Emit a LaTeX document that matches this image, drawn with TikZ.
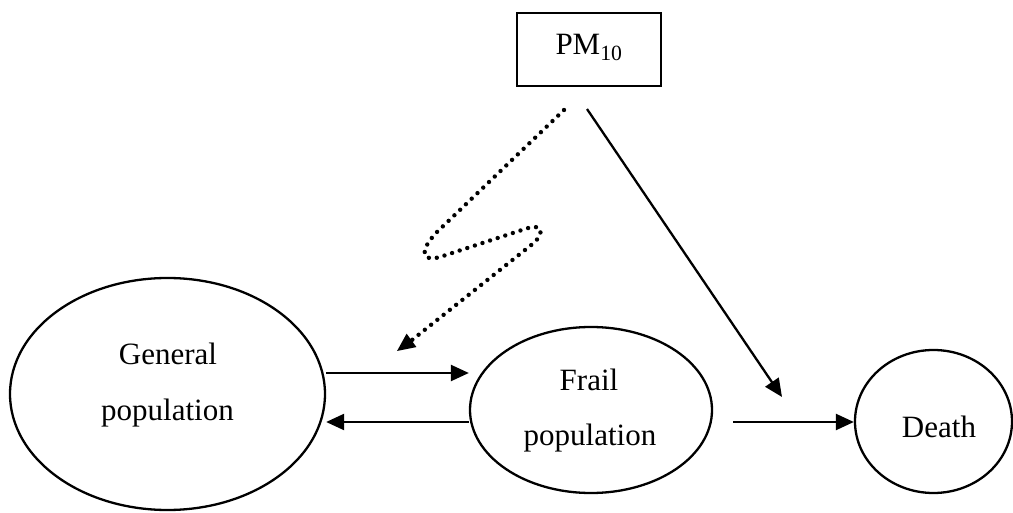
\documentclass[tikz,border=0pt]{standalone}
\usepackage{fontspec}
\setmainfont{Liberation Serif}
\usetikzlibrary{shapes.geometric,arrows.meta}
\begin{document}
\begin{tikzpicture}[x=1pt,y=-1pt,
  lw/.style={line width=2.3pt},
  oval/.style={ellipse,draw,lw,inner sep=0pt},
  lbl/.style={anchor=base,inner sep=0pt,font=\fontsize{31}{36}\selectfont},
  tip/.style={-{Triangle[length=18pt,width=16pt]}},
  dotline/.style={line width=4.4pt,line cap=round,dash pattern=on 0pt off 8pt}]
\useasboundingbox (0,0) rectangle (1013,513);
% nodes
\node[draw,lw,minimum width=144pt,minimum height=73pt,inner sep=0pt] (pm) at (589,49.5) {};
\node[lbl] (pmtxt) at (589,55) {PM\textsubscript{10}};
\node[oval,minimum width=315pt,minimum height=232pt] (gen) at (167.5,394) {};
\node[lbl] (gen1) at (168,365) {General};
\node[lbl] (gen2) at (167.5,420) {population};
\node[oval,minimum width=242pt,minimum height=166pt] (frail) at (591,410) {};
\node[lbl] (fr1) at (589,390) {Frail};
\node[lbl] (fr2) at (590,445) {population};
\node[oval,minimum width=157pt,minimum height=143pt] (death) at (933.5,421.5) {};
\node[lbl] (de1) at (939,437) {Death};
% coordinates for connector ends
\coordinate (s1) at (587,109);
\coordinate (e1) at (782,397);
\coordinate (s2) at (564,110);
\coordinate (e2) at (397,351);
\coordinate (s3) at (733,422);
% arrows
\draw[lw,tip] (gen.east |- 0,373) -- (frail.west |- 0,373);
\draw[lw,tip] (frail.west |- 0,422) -- (gen.east |- 0,422);
\draw[lw,tip] (s3) -- (death.west |- s3);
\draw[lw,tip] (s1) -- (e1);
\draw[dotline] (s2) -- (437,232) .. controls (418,252) and (422,262) .. (440,257)
  -- (525,229) .. controls (545,222) and (545,235) .. (530,246) -- (412,340);
\draw[lw,tip] (412,340) -- (e2);
\end{tikzpicture}
\end{document}
